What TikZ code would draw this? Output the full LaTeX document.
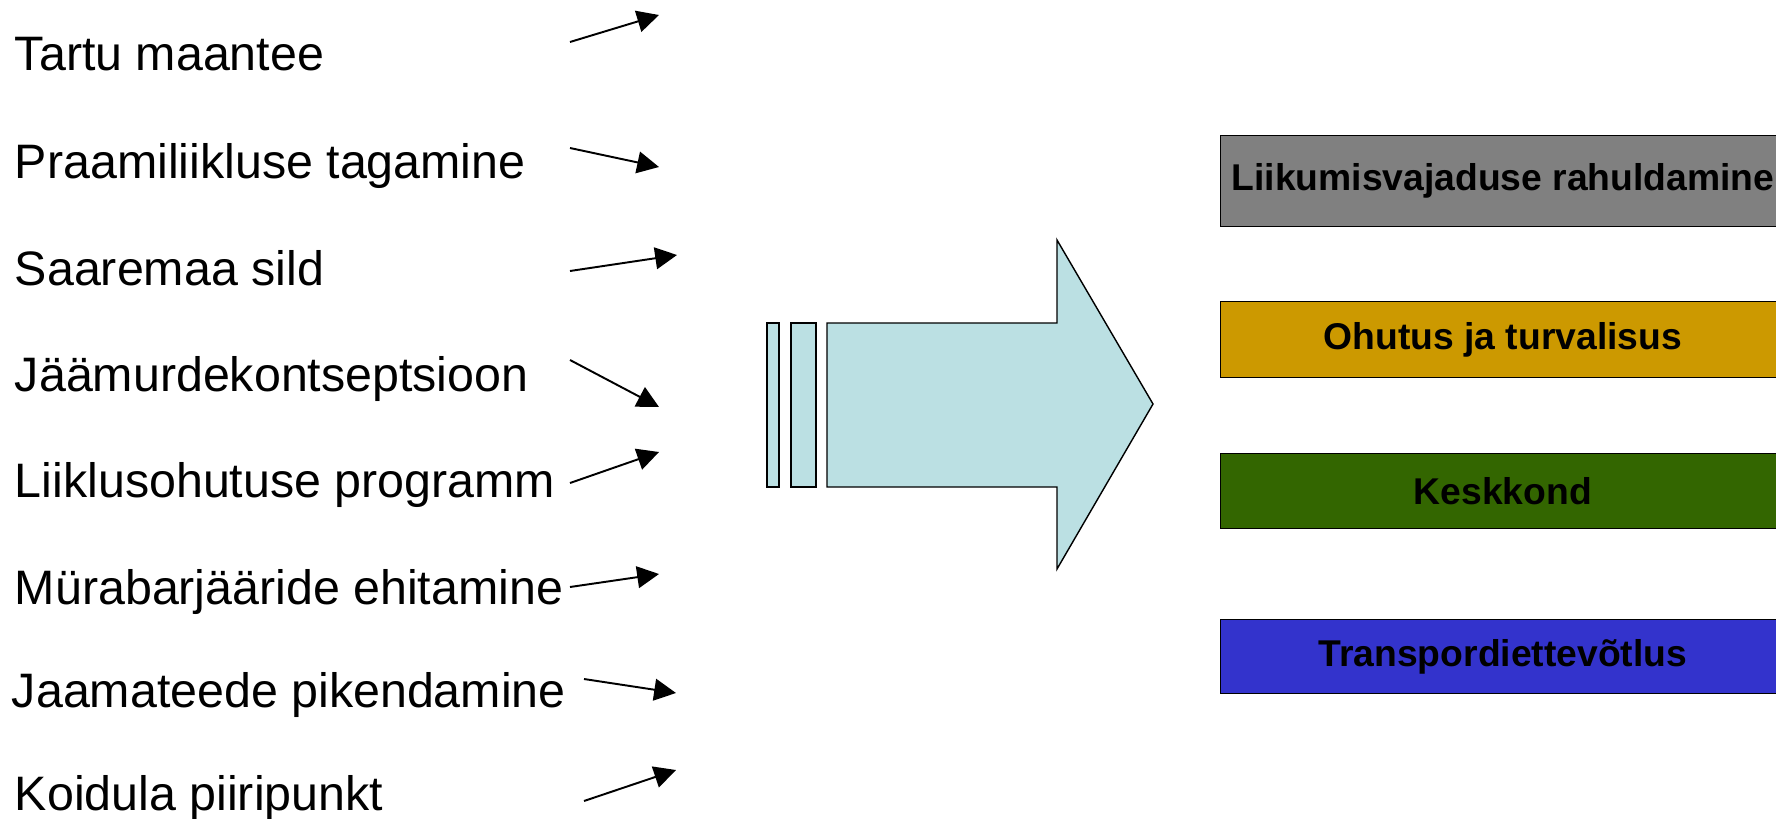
\documentclass[tikz,border=0pt]{standalone}
\usepackage{fontspec}
\setmainfont{Liberation Sans}
\usepackage{tikz}
\usetikzlibrary{arrows.meta}

\definecolor{arrowblue}{RGB}{187,224,227}
\definecolor{goalgray}{RGB}{128,128,128}
\definecolor{goalorange}{RGB}{204,153,0}
\definecolor{goalgreen}{RGB}{51,102,0}
\definecolor{goalblue}{RGB}{51,51,204}

\begin{document}
\begin{tikzpicture}[x=0.01cm,y=-0.01cm,->,>={Triangle[length=6.2pt,width=6.2pt]},
                    line width=0.55pt]
  \tikzstyle{item}=[anchor=base west,inner sep=0pt,font=\fontsize{13.75pt}{16pt}\selectfont]
  \tikzstyle{goal}=[draw=black,line width=0.4pt,anchor=north west,minimum width=5.64cm,
                    inner sep=0pt,font=\fontsize{10.6pt}{12pt}\selectfont\bfseries]
  \tikzstyle{bar}=[draw=black,fill=arrowblue,line width=0.4pt]

  \useasboundingbox (0,0) rectangle (1776,818);

  % measures on the left
  \node[item] (t1) at (14,70)  {Tartu maantee};
  \node[item] (t2) at (14,178) {Praamiliikluse tagamine};
  \node[item] (t3) at (14,285) {Saaremaa sild};
  \node[item] (t4) at (14,391) {Jäämurdekontseptsioon};
  \node[item] (t5) at (14,497) {Liiklusohutuse programm};
  \node[item] (t6) at (14,604) {Mürabarjääride ehitamine};
  \node[item] (t7) at (11,707) {Jaamateede pikendamine};
  \node[item] (t8) at (14,810) {Koidula piiripunkt};

  \coordinate (s1) at (570,42);  \coordinate (e1) at (659,15);
  \coordinate (s2) at (570,148); \coordinate (e2) at (659,167);
  \coordinate (s3) at (570,271); \coordinate (e3) at (677,255);
  \coordinate (s4) at (570,360); \coordinate (e4) at (659,407);
  \coordinate (s5) at (570,483); \coordinate (e5) at (659,452);
  \coordinate (s6) at (570,587); \coordinate (e6) at (659,574);
  \coordinate (s7) at (584,679); \coordinate (e7) at (676,693);
  \coordinate (s8) at (584,801); \coordinate (e8) at (676,770);

  \path (s1) edge (e1)
        (s2) edge (e2)
        (s3) edge (e3)
        (s4) edge (e4)
        (s5) edge (e5)
        (s6) edge (e6)
        (s7) edge (e7)
        (s8) edge (e8);

  % big arrow
  \draw[bar,-] (767,323) rectangle (779,487);
  \draw[bar,-] (791,323) rectangle (816,487);
  \draw[bar,-] (827,323) -- (1057,323) -- (1057,240) -- (1153,404)
               -- (1057,569) -- (1057,487) -- (827,487) -- cycle;

  % goals
  \node[goal,fill=goalgray,minimum height=0.91cm]   (g1) at (1220,135) {Liikumisvajaduse rahuldamine};
  \node[goal,fill=goalorange,minimum height=0.76cm] (g2) at (1220,301) {Ohutus ja turvalisus};
  \node[goal,fill=goalgreen,minimum height=0.75cm]  (g3) at (1220,453) {Keskkond};
  \node[goal,fill=goalblue,minimum height=0.74cm]   (g4) at (1220,619) {Transpordiettevõtlus};
\end{tikzpicture}
\end{document}
